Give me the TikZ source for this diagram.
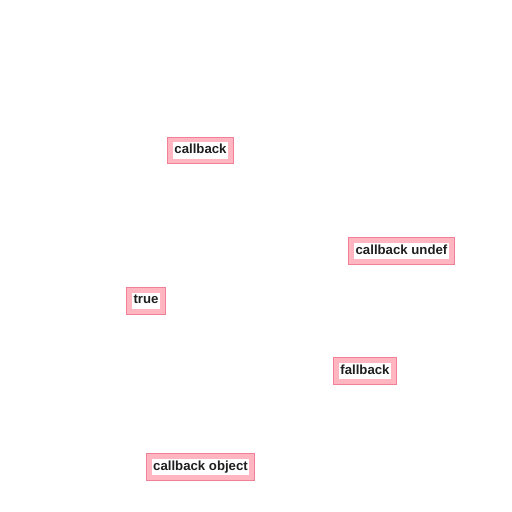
\documentclass[tikz,border=0pt]{standalone}
\usepackage{fontspec}
\setmainfont{Liberation Sans}
\definecolor{boxfill}{HTML}{FFB6C1}
\definecolor{boxline}{HTML}{F08098}
\newcommand{\wtxt}[1]{{\setlength{\fboxsep}{1.5pt}\colorbox{white}{\rule[-3.5pt]{0pt}{13pt}#1}}}
\begin{document}
\begin{tikzpicture}[x=1pt,y=1pt,
  pinkbox/.style={draw=boxline, line width=1.2pt, fill=boxfill, inner xsep=5.5pt, inner ysep=5.2pt,
    font=\fontsize{13.2}{14}\selectfont\bfseries, text=black!88}]
\useasboundingbox[fill=white] (0,0) rectangle (512,512);
\node[pinkbox] (cb) at (200.5,361.5) {\wtxt{callback}};
\node[pinkbox] (cbu) at (401.5,261) {\wtxt{callback undef}};
\node[pinkbox] (tr) at (146,211) {\wtxt{true}};
\node[pinkbox] (fb) at (365,141) {\wtxt{fallback}};
\node[pinkbox] (cbo) at (200.5,45) {\wtxt{callback object}};
\end{tikzpicture}
\end{document}
